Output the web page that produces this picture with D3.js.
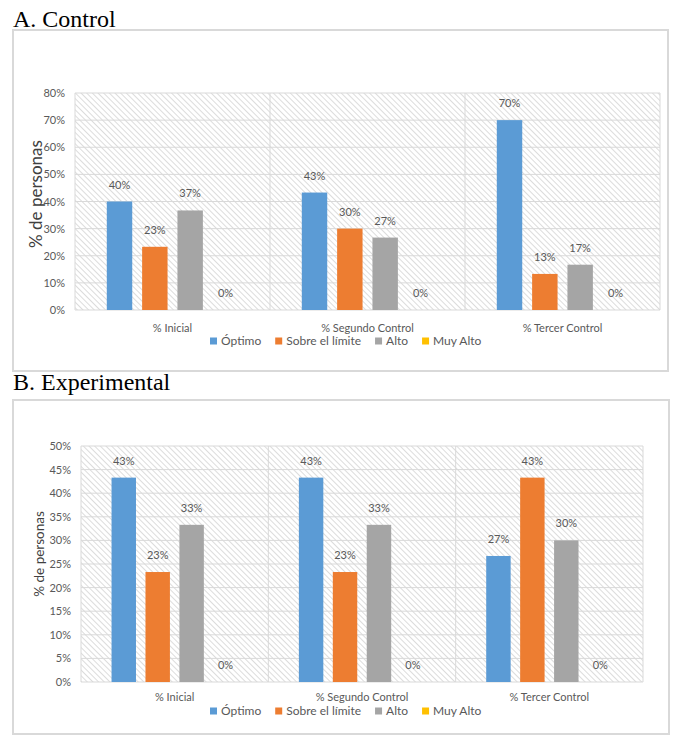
<!DOCTYPE html>
<html>
<head>
<meta charset="utf-8">
<script src="https://cdn.jsdelivr.net/npm/d3@7"></script>
<style>
  body { margin: 0; background: #fff; }
  svg text { font-family: Lato, "Open Sans", sans-serif; }
</style>
</head>
<body>
<svg id="chart" width="673" height="735"></svg>
<script>
// categories and series shared by both panels
const categories = ["% Inicial", "% Segundo Control", "% Tercer Control"];
const series = ["Óptimo", "Sobre el límite", "Alto", "Muy Alto"];
const seriesColors = ["#5b9bd5", "#ed7d31", "#a5a5a5", "#ffc000"];

// % of people per category (rows) and series (columns)
const controlValues = [
    [40, 23.3, 36.7, 0],
    [43.3, 30, 26.7, 0],
    [70, 13.3, 16.7, 0]
];
const experimentalValues = [
    [43.3, 23.3, 33.3, 0],
    [43.3, 23.3, 33.3, 0],
    [26.7, 43.3, 30, 0]
];

const controlTicks = [0, 10, 20, 30, 40, 50, 60, 70, 80];
const experimentalTicks = [0, 5, 10, 15, 20, 25, 30, 35, 40, 45, 50];

const svg = d3.select("#chart");

// hatched plot background
const defs = svg.append("defs");
const pattern = defs.append("pattern")
    .attr("id", "hatch")
    .attr("patternUnits", "userSpaceOnUse")
    .attr("width", 4)
    .attr("height", 4)
    .attr("patternTransform", "rotate(45)");
pattern.append("rect").attr("width", 4).attr("height", 4).attr("fill", "#fff");
pattern.append("line")
    .attr("x1", 0).attr("y1", 0).attr("x2", 4).attr("y2", 0)
    .attr("stroke", "#d4d4d4").attr("stroke-width", 1.6);

function drawChart(cfg) {

    const g = svg.append("g");

    g.append("text")
        .attr("x", cfg.box.x)
        .attr("y", cfg.titleY)
        .style("font-family", "'Liberation Serif', serif")
        .attr("font-size", 24)
        .attr("fill", "#000")
        .text(cfg.title);

    g.append("rect")
        .attr("x", cfg.box.x)
        .attr("y", cfg.box.y)
        .attr("width", cfg.box.w)
        .attr("height", cfg.box.h)
        .attr("fill", "#fff")
        .attr("stroke", "#d9d9d9")
        .attr("stroke-width", 2);

    const p = cfg.plot;

    const x = d3.scaleBand()
        .domain(categories)
        .range([p.left, p.right]);

    const xInner = d3.scaleBand()
        .domain(series)
        .range([0, x.bandwidth()])
        .paddingInner(0.28)
        .paddingOuter(0.9);

    const y = d3.scaleLinear()
        .domain([0, d3.max(cfg.ticks)])
        .range([p.bottom, p.top]);

    g.append("rect")
        .attr("x", p.left)
        .attr("y", p.top)
        .attr("width", p.right - p.left)
        .attr("height", p.bottom - p.top)
        .attr("fill", "url(#hatch)");

    // horizontal grid
    g.append("g")
        .selectAll("line")
        .data(cfg.ticks)
        .join("line")
        .attr("x1", p.left)
        .attr("x2", p.right)
        .attr("y1", d => y(d))
        .attr("y2", d => y(d))
        .attr("stroke", "#d9d9d9")
        .attr("stroke-width", 1);

    // vertical separators
    const edges = categories.map(c => x(c)).concat([p.right]);
    g.append("g")
        .selectAll("line")
        .data(edges)
        .join("line")
        .attr("x1", d => d)
        .attr("x2", d => d)
        .attr("y1", p.top)
        .attr("y2", p.bottom)
        .attr("stroke", "#d9d9d9")
        .attr("stroke-width", 1);

    // y axis labels
    const yAxis = d3.axisLeft(y)
        .tickValues(cfg.ticks)
        .tickFormat(d => d + "%")
        .tickSize(0)
        .tickPadding(10);

    g.append("g")
        .attr("transform", `translate(${p.left},0)`)
        .call(yAxis)
        .call(a => a.select(".domain").remove())
        .call(a => a.selectAll("text")
            .attr("fill", "#595959")
            .attr("font-size", 11)
            .style("font-family", "Lato, sans-serif"));

    // bars
    const rows = [];
    categories.forEach((c, i) => {
        series.forEach((s, j) => {
            rows.push({ category: c, series: s, value: cfg.values[i][j], color: seriesColors[j] });
        });
    });

    g.append("g")
        .selectAll("rect")
        .data(rows)
        .join("rect")
        .attr("x", d => x(d.category) + xInner(d.series))
        .attr("y", d => y(d.value))
        .attr("width", xInner.bandwidth())
        .attr("height", d => p.bottom - y(d.value))
        .attr("fill", d => d.color);

    g.append("g")
        .selectAll("text")
        .data(rows)
        .join("text")
        .attr("x", d => x(d.category) + xInner(d.series) + xInner.bandwidth() / 2)
        .attr("y", d => y(d.value) - 13)
        .attr("text-anchor", "middle")
        .attr("font-size", 11)
        .attr("fill", "#595959")
        .text(d => Math.round(d.value) + "%");

    // category labels
    g.append("g")
        .selectAll("text")
        .data(categories)
        .join("text")
        .attr("x", d => x(d) + x.bandwidth() / 2)
        .attr("y", cfg.catLabelY)
        .attr("text-anchor", "middle")
        .attr("font-size", 11)
        .attr("fill", "#595959")
        .text(d => d);

    // y title
    g.append("text")
        .attr("transform", `translate(${cfg.yTitle.x},${cfg.yTitle.y}) rotate(-90)`)
        .attr("text-anchor", "middle")
        .attr("font-size", cfg.yTitle.size)
        .attr("fill", "#404040")
        .text("% de personas");

    // legend
    const legend = g.append("g");
    let lx = cfg.legendX;
    series.forEach((s, j) => {
        legend.append("rect")
            .attr("x", lx)
            .attr("y", cfg.legendY - 3.5)
            .attr("width", 7)
            .attr("height", 7)
            .attr("fill", seriesColors[j]);
        const t = legend.append("text")
            .attr("x", lx + 11)
            .attr("y", cfg.legendY + 4)
            .attr("font-size", 12)
            .attr("fill", "#595959")
            .text(s);
        lx += 11 + t.node().getComputedTextLength() + 14;
    });
}

drawChart({
    title: "A. Control",
    titleY: 27,
    box: { x: 13, y: 30, w: 655, h: 341 },
    plot: { left: 75, right: 660, top: 93, bottom: 310 },
    values: controlValues,
    ticks: controlTicks,
    catLabelY: 332,
    yTitle: { x: 42, y: 194, size: 17 },
    legendX: 210,
    legendY: 341
});

drawChart({
    title: "B. Experimental",
    titleY: 390,
    box: { x: 13, y: 400, w: 656, h: 334 },
    plot: { left: 81, right: 643, top: 446, bottom: 682 },
    values: experimentalValues,
    ticks: experimentalTicks,
    catLabelY: 701,
    yTitle: { x: 44, y: 554, size: 13.5 },
    legendX: 210,
    legendY: 711
});
</script>
</body>
</html>
